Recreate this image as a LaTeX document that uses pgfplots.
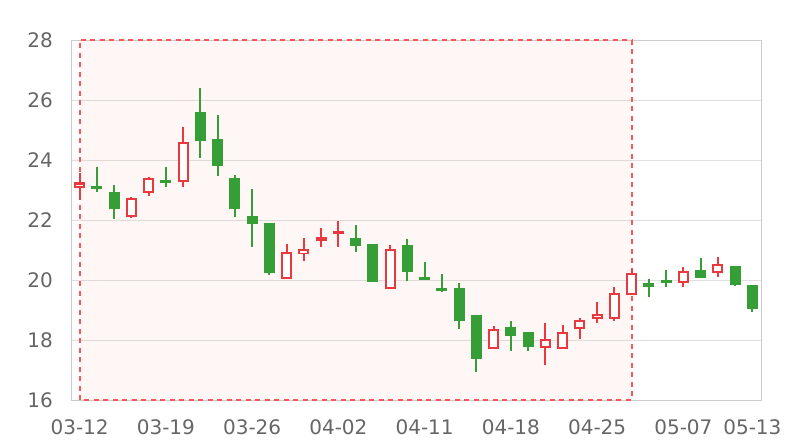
\documentclass[border=0pt]{standalone}
\usepackage{fontspec}
\setmainfont{DejaVu Sans}
\usepackage{pgfplots}
\usepackage{pgfplotstable}
\pgfplotsset{compat=1.18}

\definecolor{upred}{RGB}{232,58,62}
\definecolor{downgreen}{RGB}{54,158,54}
\definecolor{markred}{RGB}{245,88,88}
\definecolor{gridgray}{RGB}{224,224,224}
\definecolor{axisgray}{RGB}{204,204,204}
\definecolor{labelgray}{RGB}{102,102,102}

% x = trading day index, open, close, high, low
\pgfplotstableread{
x  open  close high  low
0  23.08 23.25 23.57 22.67
3  22.10 22.73 22.77 22.07
4  22.90 23.40 23.42 22.80
6  23.27 24.60 25.10 23.10
12 20.03 20.93 21.20 20.03
13 20.87 21.03 21.40 20.63
14 21.30 21.43 21.73 21.10
15 21.55 21.62 21.97 21.10
18 19.70 21.03 21.17 19.70
24 17.70 18.37 18.47 17.70
27 17.73 18.03 18.57 17.17
28 17.70 18.27 18.50 17.70
29 18.37 18.67 18.73 18.03
30 18.70 18.87 19.27 18.57
31 18.70 19.57 19.77 18.63
32 19.50 20.23 20.37 19.50
35 19.90 20.30 20.43 19.77
37 20.23 20.53 20.77 20.10
}\uptab

\pgfplotstableread{
x  open  close high  low
1  23.10 23.05 23.77 22.92
2  22.93 22.37 23.17 22.03
5  23.33 23.27 23.77 23.10
7  25.60 24.63 26.40 24.07
8  24.70 23.80 25.50 23.47
9  23.40 22.37 23.50 22.10
10 22.13 21.87 23.03 21.10
11 21.90 20.23 21.90 20.17
16 21.40 21.13 21.83 20.93
17 21.20 19.93 21.20 19.93
19 21.17 20.27 21.37 19.97
20 20.10 20.00 20.60 20.00
21 19.73 19.63 20.20 19.60
22 19.73 18.63 19.90 18.37
23 18.83 17.37 18.85 16.93
25 18.43 18.13 18.63 17.63
26 18.27 17.77 18.27 17.63
33 19.90 19.75 20.03 19.43
34 20.00 19.93 20.33 19.77
36 20.33 20.07 20.73 20.07
38 20.47 19.83 20.47 19.80
39 19.83 19.03 19.83 18.93
}\downtab

\pgfplotsset{
  candle/.style 2 args={draw=none, mark=none, forget plot,
    error bars/.cd, y dir=both, y explicit, error mark=none,
    error bar style={line width=#1, draw=#2}},
}

\begin{document}
\begin{tikzpicture}
\useasboundingbox (-71bp,-40bp) rectangle (729bp,400bp);
\begin{axis}[
  scale only axis,
  width=690bp, height=360bp,
  xmin=-0.5, xmax=39.5,
  ymin=16, ymax=28,
  ytick={16,18,...,28},
  xtick={0,5,10,15,20,25,30,35,39},
  xticklabels={03-12,03-19,03-26,04-02,04-11,04-18,04-25,05-07,05-13},
  ymajorgrids,
  grid style={gridgray, line width=0.9bp},
  axis line style={axisgray, line width=0.9bp},
  major tick length=0pt,
  tick label style={font=\fontsize{20bp}{24bp}\selectfont, text=labelgray},
  /pgf/number format/assume math mode=true,
  yticklabel style={inner sep=0pt, anchor=east, xshift=-18bp},
  xticklabel style={inner sep=0pt, anchor=north, yshift=-19bp},
  clip=false,
]
% highlighted range
\addplot[fill=red, fill opacity=0.035, draw=markred,
  dash pattern=on 5bp off 4.5bp, line width=2bp]
  coordinates {(0,16) (0,28) (32,28) (32,16) (0,16)};

% wicks
\addplot[candle={2bp}{downgreen}]
  table[x=x, y expr={(\thisrow{high}+\thisrow{low})/2},
        y error expr={(\thisrow{high}-\thisrow{low})/2}] {\downtab};
\addplot[candle={2bp}{upred}]
  table[x=x, y expr={(\thisrow{high}+\thisrow{low})/2},
        y error expr={(\thisrow{high}-\thisrow{low})/2}] {\uptab};

% falling bodies (filled)
\addplot[candle={11bp}{downgreen}]
  table[x=x, y expr={(\thisrow{open}+\thisrow{close})/2},
        y error expr={max(abs(\thisrow{close}-\thisrow{open})/2,0.05)}] {\downtab};

% rising bodies (hollow)
\addplot[candle={11bp}{upred}]
  table[x=x, y expr={(\thisrow{open}+\thisrow{close})/2},
        y error expr={max(abs(\thisrow{close}-\thisrow{open})/2,0.05)}] {\uptab};
\addplot[candle={7bp}{white}]
  table[x=x, y expr={(\thisrow{open}+\thisrow{close})/2},
        y error expr={max(abs(\thisrow{close}-\thisrow{open})/2-0.067,0)}] {\uptab};
\end{axis}
\end{tikzpicture}
\end{document}
